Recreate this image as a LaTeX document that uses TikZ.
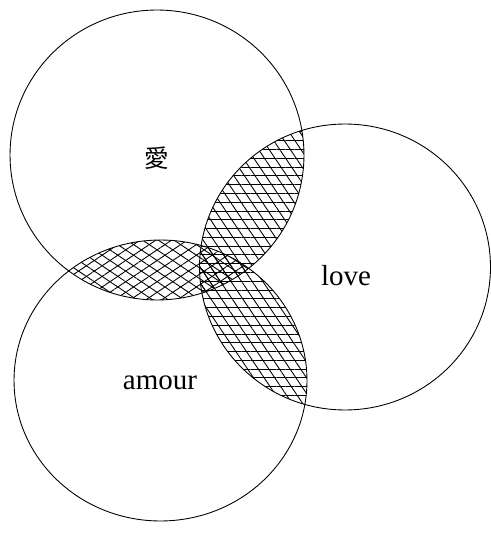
\documentclass[tikz,border=0pt]{standalone}
\usepackage{fontspec}
\setmainfont{Liberation Serif}
\newfontfamily\cjk{Noto Sans CJK JP}
\usepackage{tikz}
\usetikzlibrary{patterns.meta}

\newcommand{\setA}{(157,155) ellipse [x radius=2.94cm, y radius=2.90cm]}
\newcommand{\setB}{(345,267) ellipse [x radius=2.91cm, y radius=2.86cm]}
\newcommand{\setC}{(160.5,380.5) ellipse [x radius=2.93cm, y radius=2.81cm]}

\tikzset{
  hatch/.style={pattern={Lines[angle=#1,distance=5pt,line width=0.5pt]}},
  ring/.style={draw=black,line width=0.5pt},
  lbl/.style={font=\fontsize{16.5}{19}\selectfont}
}

\begin{document}
\begin{tikzpicture}[x=0.02cm,y=-0.02cm]
\useasboundingbox (0,0) rectangle (490,536);
% A and B
\begin{scope}
\clip \setA;
\fill[hatch=0] \setB;
\fill[hatch=-56] \setB;
\end{scope}
% B and C
\begin{scope}
\clip \setB;
\fill[hatch=0] \setC;
\fill[hatch=-56] \setC;
\end{scope}
% A and C
\begin{scope}
\clip \setA;
\fill[hatch=34] \setC;
\fill[hatch=-34] \setC;
\end{scope}
\draw[ring] \setA;
\draw[ring] \setB;
\draw[ring] \setC;
\node[font=\cjk\fontsize{14}{16}\selectfont] (ai) at (157,158) {愛};
\node[lbl] (love) at (346,276) {love};
\node[lbl] (amour) at (160,383) {amour};
\end{tikzpicture}
\end{document}
